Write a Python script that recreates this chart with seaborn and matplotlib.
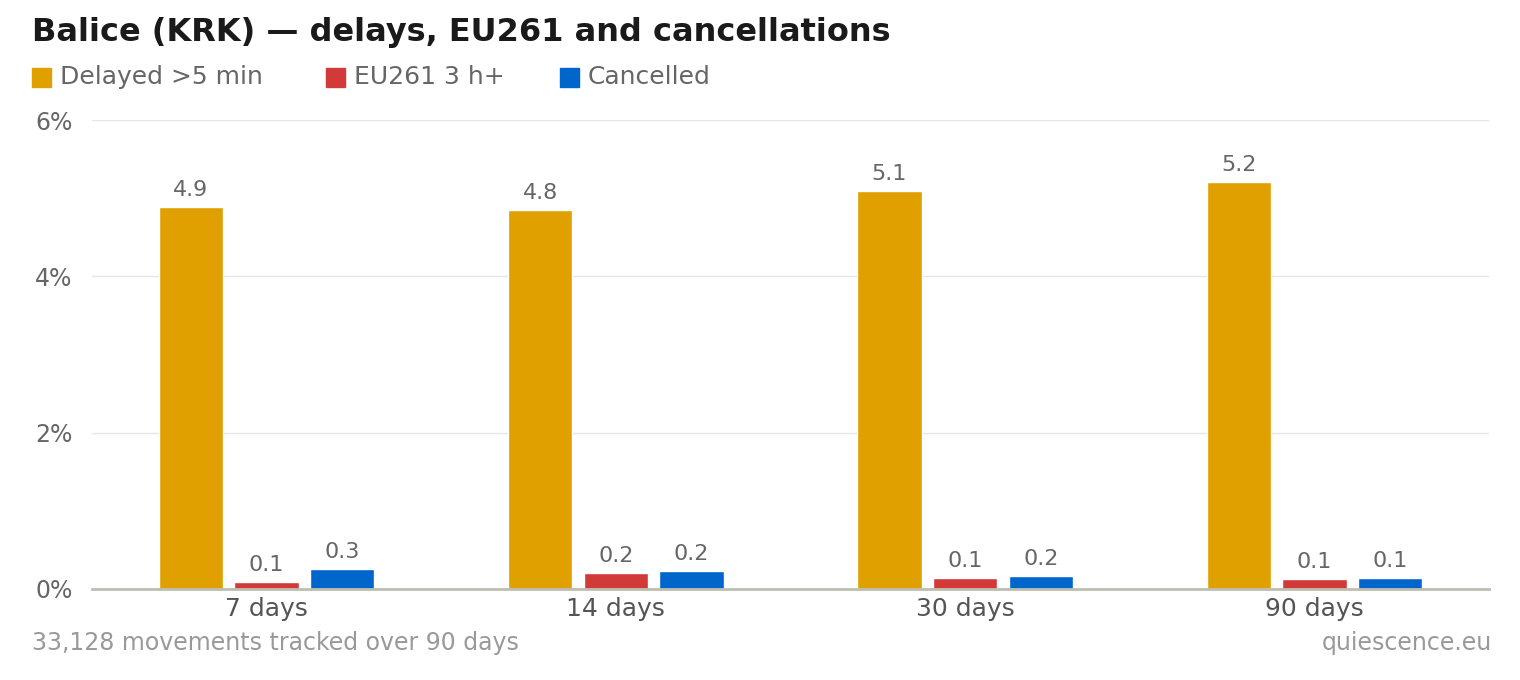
import matplotlib
matplotlib.use("Agg")
import matplotlib.pyplot as plt
import seaborn as sns
import pandas as pd

periods = ["7 days", "14 days", "30 days", "90 days"]
series = ["Delayed >5 min", "EU261 3 h+", "Cancelled"]
delayed = [4.89, 4.85, 5.09, 5.21]
eu261 = [0.09, 0.20, 0.14, 0.13]
cancelled = [0.26, 0.23, 0.17, 0.14]
colors = ["#E0A000", "#D23A3A", "#0066CC"]

df = pd.DataFrame({
    "period": periods * 3,
    "series": [series[0]] * 4 + [series[1]] * 4 + [series[2]] * 4,
    "value": delayed + eu261 + cancelled,
})

sns.set_theme(style="white")
plt.rcParams["font.family"] = ["DejaVu Sans"]
fig = plt.figure(figsize=(15.2, 6.8), dpi=100)
ax = fig.add_axes([92/1520, 1-589/680, (1489-92)/1520, (589-120)/680])
sns.barplot(data=df, x="period", y="value", hue="series", palette=colors,
            width=0.65, gap=0.15, ax=ax, legend=False, saturation=1)
ax.set_ylim(0, 6)
ax.set_xlim(-0.5, 3.5)
ax.set_yticks([0, 2, 4, 6])
ax.set_yticklabels(["0%", "2%", "4%", "6%"])
ax.yaxis.grid(True, color="#e6e6e6", lw=1)
ax.set_axisbelow(True)
for s in ["top", "right", "left"]:
    ax.spines[s].set_visible(False)
ax.spines["bottom"].set_color("#bdbdb0")
ax.spines["bottom"].set_linewidth(2)
ax.tick_params(axis="y", length=0, labelsize=17, labelcolor="#666666", pad=14)
ax.tick_params(axis="x", length=0, labelsize=18, labelcolor="#555555", pad=6)
ax.set_xlabel("")
ax.set_ylabel("")
for c in ax.containers:
    ax.bar_label(c, labels=[f"{b.get_height():.1f}" for b in c], padding=5,
                 fontsize=16, color="#666666")

fig.text(32/1520, 1-33/680, "Balice (KRK) — delays, EU261 and cancellations",
         fontsize=23, fontweight="bold", color="#1a1a1a", va="center")
xs = [32, 326, 560]
for x, s, col in zip(xs, series, colors):
    fig.patches.append(plt.Rectangle((x/1520, 1-87/680), 19/1520, 19/680,
                       transform=fig.transFigure, color=col))
    fig.text((x+28)/1520, 1-77/680, s, fontsize=18, color="#666666", va="center")
fig.text(32/1520, 1-643/680, "33,128 movements tracked over 90 days",
         fontsize=17, color="#999999", va="center")
fig.text(1492/1520, 1-643/680, "quiescence.eu", fontsize=17, color="#999999",
         va="center", ha="right")
fig.savefig("out.png", dpi=100)
